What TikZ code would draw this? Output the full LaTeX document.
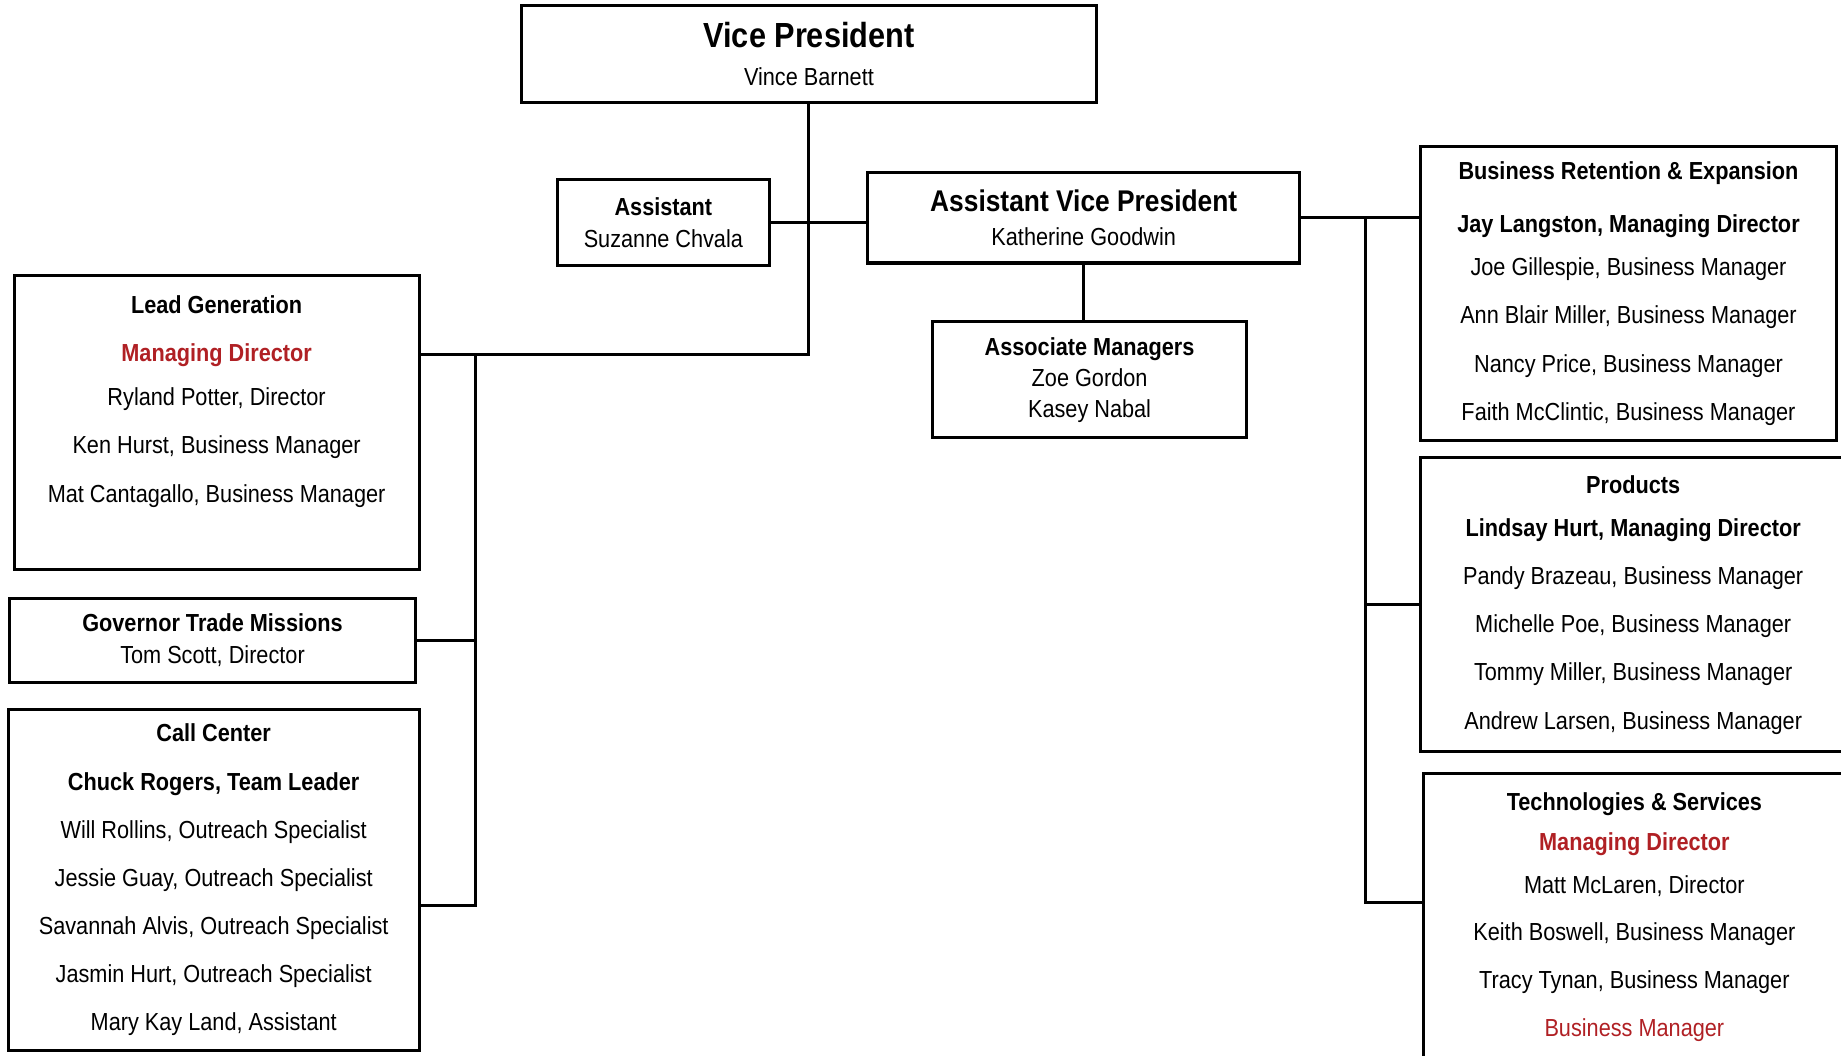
\documentclass[tikz,border=0pt]{standalone}
\usepackage{fontspec}
\setmainfont{Liberation Sans}[FakeStretch=0.88]
\definecolor{mdred}{RGB}{176,32,36}
\tikzset{
  box/.style={draw, line width=2.6pt, align=center, inner sep=0pt, font=\fontsize{21}{27}\selectfont},
  bigbox/.style={box, font=\fontsize{21}{41}\selectfont},
  link/.style={line width=2.6pt},
}
\newcommand{\hd}[1]{\textbf{#1}}
\newcommand{\rd}[1]{\textcolor{mdred}{\textbf{#1}}}
\newcommand{\rdl}[1]{\textcolor{mdred}{#1}}
\begin{document}
\begin{tikzpicture}[x=1pt,y=-1pt]
\useasboundingbox (0,0) rectangle (1568,899);
\clip (0,0) rectangle (1568,899);
% top of the chart
\node[box, minimum width=490, minimum height=82, font=\fontsize{21}{33}\selectfont] (vp) at (689,46)
  {{\fontsize{29.7}{33}\selectfont\bfseries Vice President}\\Vince Barnett};
\node[box, minimum width=180, minimum height=73] (asst) at (565,189.5)
  {\hd{Assistant}\\Suzanne Chvala};
\node[box, minimum width=368, minimum height=77, font=\fontsize{21}{29}\selectfont] (avp) at (923,185.5)
  {{\fontsize{25.5}{29}\selectfont\bfseries Assistant Vice President}\\Katherine Goodwin};
\node[box, minimum width=268, minimum height=99, font=\fontsize{21}{26.5}\selectfont] (assoc) at (928,323.5)
  {\hd{Associate Managers}\\Zoe Gordon\\Kasey Nabal};
% left column
\node[bigbox, minimum width=345, minimum height=250] (lead) at (184.5,360)
  {\hd{Lead Generation}\\\rd{Managing Director}\\[-3pt]Ryland Potter, Director\\Ken Hurst, Business Manager\\Mat Cantagallo, Business Manager\\\mbox{}};
\node[box, minimum width=346, minimum height=71] (gov) at (181,545.5)
  {\hd{Governor Trade Missions}\\Tom Scott, Director};
\node[bigbox, minimum width=350, minimum height=291] (call) at (182,749.5)
  {\hd{Call Center}\\\hd{Chuck Rogers, Team Leader}\\Will Rollins, Outreach Specialist\\Jessie Guay, Outreach Specialist\\Savannah Alvis, Outreach Specialist\\Jasmin Hurt, Outreach Specialist\\Mary Kay Land, Assistant};
% right column
\node[bigbox, minimum width=354, minimum height=250] (bre) at (1387,250)
  {\hd{Business Retention \& Expansion}\\[4pt]\hd{Jay Langston, Managing Director}\\[-4pt]Joe Gillespie, Business Manager\\Ann Blair Miller, Business Manager\\Nancy Price, Business Manager\\Faith McClintic, Business Manager};
\node[bigbox, minimum width=362, minimum height=250] (prod) at (1391,515)
  {\hd{Products}\\[-4pt]\hd{Lindsay Hurt, Managing Director}\\Pandy Brazeau, Business Manager\\Michelle Poe, Business Manager\\Tommy Miller, Business Manager\\Andrew Larsen, Business Manager};
\node[bigbox, minimum width=360, minimum height=281] (tech) at (1392,799.5)
  {\hd{Technologies \& Services}\\[-7pt]\rd{Managing Director}\\[-4pt]Matt McLaren, Director\\[-1pt]Keith Boswell, Business Manager\\Tracy Tynan, Business Manager\\\rdl{Business Manager}\\\mbox{}};
% bus lines
\coordinate (lbtop) at (405,302);
\coordinate (lbbot) at (405,771);
\coordinate (rbtop) at (1163,184);
\coordinate (rbbot) at (1163,769);
\draw[link] (vp.south) |- (lead.east |- lbtop);
\draw[link] (asst.east) -- (avp.west |- asst.east);
\draw[link] (avp.south) -- (avp.south |- assoc.north);
\draw[link] (lbtop) |- (call.east |- lbbot);
\draw[link] (gov.east) -- (gov.east -| lbtop);
\draw[link] (avp.east) -- (bre.west |- avp.east);
\draw[link] (avp.east -| rbtop) |- (tech.west |- rbbot);
\draw[link] (prod.west) -- (prod.west -| rbtop);
\end{tikzpicture}
\end{document}
